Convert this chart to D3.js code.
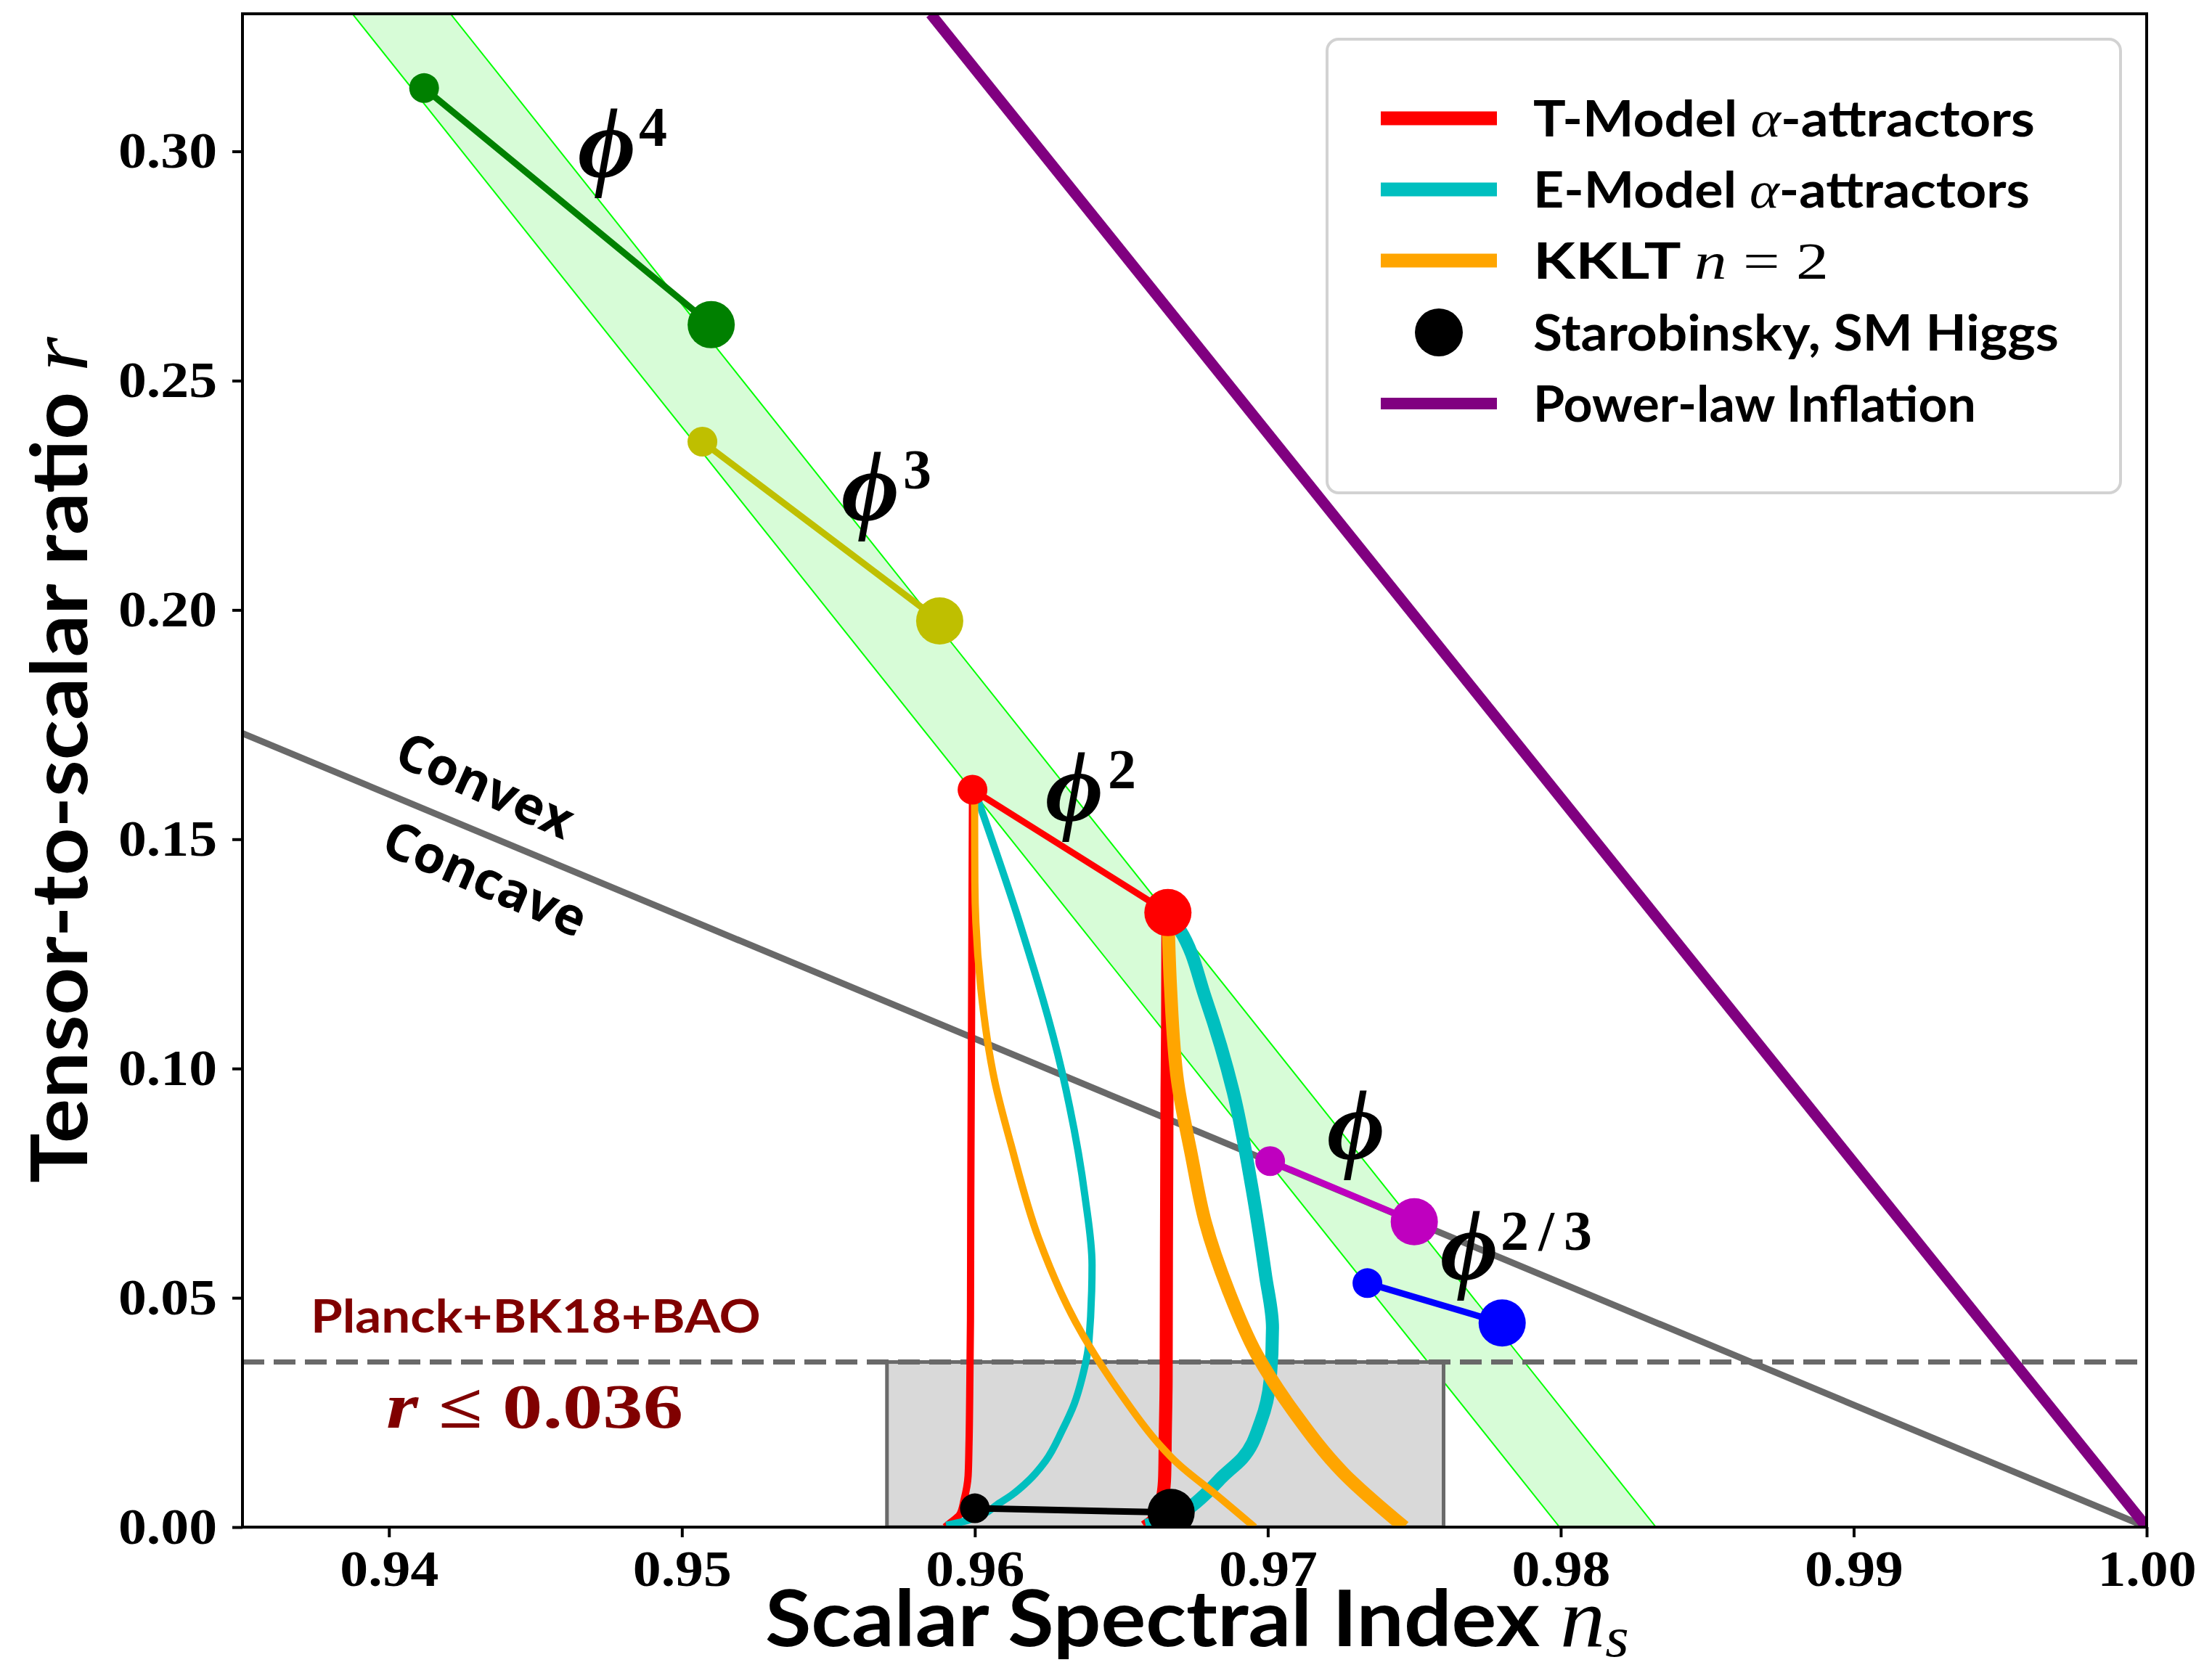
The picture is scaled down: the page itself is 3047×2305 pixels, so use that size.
<!DOCTYPE html>
<html><head><meta charset="utf-8">
<script src="https://cdn.jsdelivr.net/npm/d3@7"></script>
<style>body{margin:0;background:#fff}svg{display:block}</style>
</head><body>
<svg id="c" width="3047" height="2305"></svg>
<script>
// ---------------- DATA ----------------
const nsTicks = [0.94, 0.95, 0.96, 0.97, 0.98, 0.99, 1.00];
const rTicks = [0.00, 0.05, 0.10, 0.15, 0.20, 0.25, 0.30];
const nsDomain = [0.935, 1.0];
const rDomain = [0, 0.33];

// monomial band edges (N=50 and N=60 lines)
const bandN50 = [[0.93875, 0.33], [0.97996, 0.0]];
const bandN60 = [[0.9421, 0.33], [0.98325, 0.0]];

// observational bound
const rBound = 0.036;
const boxNs = [0.957, 0.976];

// reference lines
const convexLine = [[0.935, 0.1731], [1.0, 0.0]];
const powerLaw = [[0.95849, 0.33], [1.0, 0.0]];

// alpha-attractor / KKLT tracks (thin: N=50, thick: N=60)
const tModelN50 = [[0.95992,0.1608],[0.95990,0.13],[0.95988,0.10],[0.95986,0.07],[0.95985,0.045],[0.95983,0.032],[0.95980,0.018],[0.95977,0.0112],[0.95963,0.0059],[0.95948,0.0027],[0.95919,0.0011],[0.95898,0.0]];
const tModelN60 = [[0.96659,0.134],[0.96658,0.11],[0.96656,0.0949],[0.96654,0.06],[0.96653,0.0323],[0.96650,0.02],[0.96648,0.0112],[0.96642,0.007],[0.96625,0.003],[0.96605,0.0012],[0.9658,0.0]];
const eModelN50 = [[0.95999,0.1607],[0.96155,0.1313],[0.96297,0.0994],[0.96376,0.0721],[0.96400,0.0572],[0.96389,0.0401],[0.96365,0.0323],[0.96340,0.0270],[0.96299,0.0212],[0.96241,0.0144],[0.96183,0.0101],[0.96126,0.0070],[0.96076,0.0049],[0.96026,0.0027],[0.95960,0.0012],[0.95902,0.0004]];
const eModelN60 = [[0.96659,0.134],[0.96700,0.1302],[0.96787,0.1154],[0.96882,0.0949],[0.96945,0.0743],[0.96992,0.0550],[0.97016,0.0435],[0.97008,0.0321],[0.96976,0.0230],[0.96913,0.0150],[0.96845,0.0110],[0.96800,0.0080],[0.96746,0.0049],[0.96700,0.0028],[0.96640,0.0012],[0.96583,0.0004]];
const kkltN50 = [[0.95999,0.1607],[0.96000,0.1405],[0.96020,0.1177],[0.96068,0.0972],[0.96123,0.0835],[0.96218,0.0629],[0.96344,0.0447],[0.96502,0.0287],[0.96630,0.0180],[0.96692,0.0139],[0.96825,0.0070],[0.96955,0.0]];
const kkltN60 = [[0.96659,0.134],[0.96668,0.1177],[0.96692,0.0972],[0.96739,0.0812],[0.96787,0.0664],[0.96866,0.0515],[0.96961,0.0378],[0.97087,0.0253],[0.97261,0.0116],[0.97466,0.0]];

// monomial potentials: [N=50 point, N=60 point]
const phi4 = [[0.9412, 0.3138], [0.9510, 0.2622]];
const phi3 = [[0.9507, 0.2367], [0.9588, 0.1976]];
const phi2 = [[0.95992, 0.1608], [0.96659, 0.1340]];
const phi1 = [[0.97008, 0.0798], [0.9750, 0.0666]];
const phi23 = [[0.9734, 0.0532], [0.9780, 0.0445]];
const starobinsky = [[0.9600, 0.0041], [0.9667, 0.0032]];

const monomialSeries = [
  {pts: phi4, color: '#008000', sup: '4'},
  {pts: phi3, color: '#bfbf00', sup: '3'},
  {pts: phi2, color: '#ff0000', sup: '2'},
  {pts: phi1, color: '#bf00bf', sup: ''},
  {pts: phi23, color: '#0000ff', sup: '2/3'},
  {pts: starobinsky, color: '#000000', sup: null}
];

const legendLabels = ['T-Model', 'E-Model', 'KKLT', 'Starobinsky, SM Higgs', 'Power-law Inflation'];
const legendColors = ['#ff0000', '#00bfbf', '#ffa500', '#000000', '#800080'];

// ---------------- LAYOUT ----------------
const W = 3047, H = 2305;
const M = {left: 334, right: 2957, top: 19, bottom: 2104};
const x = d3.scaleLinear().domain(nsDomain).range([M.left, M.right]);
const y = d3.scaleLinear().domain(rDomain).range([M.bottom, M.top]);
const svg = d3.select('#c');
svg.append('rect').attr('width', W).attr('height', H).attr('fill', '#fff');
svg.append('defs').append('clipPath').attr('id', 'clip').append('rect')
  .attr('x', M.left).attr('y', M.top).attr('width', M.right - M.left).attr('height', M.bottom - M.top);
const plot = svg.append('g').attr('clip-path', 'url(#clip)');
const line = d3.line().x(d => x(d[0])).y(d => y(d[1]));
const lineCurve = d3.line().x(d => x(d[0])).y(d => y(d[1])).curve(d3.curveMonotoneY);

const SANS = 'Lato, "Open Sans", "DejaVu Sans", sans-serif';
const SERIF = '"Liberation Serif", "DejaVu Serif", serif';

// band
plot.append('path').attr('d', line(bandN50.concat(bandN60.slice().reverse())) + 'Z').attr('fill', '#d7fcd7');
[bandN50, bandN60].forEach(e => plot.append('path').attr('d', line(e)).attr('fill', 'none').attr('stroke', '#00ff00').attr('stroke-width', 2));

// observational box
plot.append('rect').attr('x', x(boxNs[0])).attr('y', y(rBound))
  .attr('width', x(boxNs[1]) - x(boxNs[0])).attr('height', y(0) - y(rBound))
  .attr('fill', '#d9d9d9').attr('stroke', '#6a6a6a').attr('stroke-width', 5);

// convex/concave line
plot.append('path').attr('d', line(convexLine)).attr('fill', 'none').attr('stroke', '#696969').attr('stroke-width', 9);
// dashed bound
plot.append('line').attr('x1', x(nsDomain[0])).attr('x2', x(nsDomain[1])).attr('y1', y(rBound)).attr('y2', y(rBound))
  .attr('stroke', '#696969').attr('stroke-width', 7).attr('stroke-dasharray', '30,13');
// power law
plot.append('path').attr('d', line(powerLaw)).attr('fill', 'none').attr('stroke', '#800080').attr('stroke-width', 15);

// tracks
const tracks = [
  [tModelN50, '#ff0000', 10], [tModelN60, '#ff0000', 18],
  [eModelN50, '#00bfbf', 10], [eModelN60, '#00bfbf', 18],
  [kkltN50, '#ffa500', 10], [kkltN60, '#ffa500', 18]
];
tracks.forEach(([pts, c, w]) => plot.append('path').attr('d', lineCurve(pts)).attr('fill', 'none')
  .attr('stroke', c).attr('stroke-width', w).attr('stroke-linejoin', 'round'));

// monomial / Starobinsky points
monomialSeries.forEach(s => {
  plot.append('path').attr('d', line(s.pts)).attr('stroke', s.color).attr('stroke-width', 9).attr('fill', 'none');
  plot.append('circle').attr('cx', x(s.pts[0][0])).attr('cy', y(s.pts[0][1])).attr('r', 20.5).attr('fill', s.color);
  plot.append('circle').attr('cx', x(s.pts[1][0])).attr('cy', y(s.pts[1][1])).attr('r', 32.5).attr('fill', s.color);
});

// phi labels
const phiPos = [
  {x: 796, y: 244, sx: 880, sy: 201},
  {x: 1159, y: 717, sx: 1244, sy: 673},
  {x: 1440, y: 1131, sx: 1526, sy: 1086},
  {x: 1828, y: 1597, sx: 0, sy: 0},
  {x: 1984, y: 1763, sx: 2067, sy: 1722}
];
monomialSeries.filter(s => s.sup !== null).forEach((s, i) => {
  const p = phiPos[i];
  svg.append('text').attr('x', p.x).attr('y', p.y).attr('font-family', SERIF).attr('font-style', 'italic')
    .attr('font-weight', 'bold').attr('font-size', 138).attr('fill', '#000').text('\u03D5');
  if (s.sup) {
    const t = svg.append('text').attr('x', p.sx).attr('y', p.sy).attr('font-family', SERIF)
      .attr('font-weight', 'bold').attr('font-size', 78).attr('fill', '#000').text(s.sup);
    if (s.sup.length > 1) t.attr('textLength', 126).attr('lengthAdjust', 'spacing');
  }
});

// axes
const xAxis = svg.append('g').attr('transform', `translate(0,${M.bottom})`)
  .call(d3.axisBottom(x).tickValues(nsTicks).tickSize(14).tickSizeOuter(0).tickPadding(17).tickFormat(d3.format('.2f')));
const yAxis = svg.append('g').attr('transform', `translate(${M.left},0)`)
  .call(d3.axisLeft(y).tickValues(rTicks).tickSize(14).tickSizeOuter(0).tickPadding(21).tickFormat(d3.format('.2f')));
[xAxis, yAxis].forEach(a => {
  a.select('.domain').remove();
  a.selectAll('line').attr('stroke', '#000').attr('stroke-width', 4);
  a.selectAll('text').attr('font-family', SERIF).attr('font-weight', 'bold').attr('font-size', 70).attr('fill', '#000')
    .attr('textLength', 136).attr('lengthAdjust', 'spacingAndGlyphs');
});
svg.append('rect').attr('x', M.left).attr('y', M.top).attr('width', M.right - M.left).attr('height', M.bottom - M.top)
  .attr('fill', 'none').attr('stroke', '#000').attr('stroke-width', 4);

// text helper: build text then stretch to target width
function fitted(x0, y0, angle, width, build) {
  const g = svg.append('g').attr('transform', `translate(${x0},${y0}) rotate(${angle})`);
  const t = g.append('text').attr('x', 0).attr('y', 0).style('white-space', 'pre');
  build(t);
  if (width) {
    const bb = t.node().getBBox();
    t.attr('transform', `scale(${width / bb.width},1) translate(${-bb.x},0)`);
  }
  return g;
}
const sans = (t, s, size, fill) => t.append('tspan').attr('font-family', SANS).attr('font-weight', 'bold').attr('font-size', size).attr('fill', fill || '#000').text(s);
const it = (t, s, size, fill) => t.append('tspan').attr('font-family', SERIF).attr('font-style', 'italic').attr('font-size', size).attr('fill', fill || '#000').text(s);
const rm = (t, s, size, fill, bold) => t.append('tspan').attr('font-family', SERIF).attr('font-weight', bold ? 'bold' : 'normal').attr('font-size', size).attr('fill', fill || '#000').text(s);

// axis labels
fitted(120, 1630, -90, 1167, t => { sans(t, 'Tensor-to-scalar ratio ', 108); it(t, 'r', 116); });
fitted(1054, 2268, 0, 1190, t => { sans(t, 'Scalar Spectral Index ', 108); it(t, 'n', 116); it(t, 's', 78).attr('dy', 14); });

// annotations
const DARKRED = '#800000';
fitted(428, 1836, 0, 620, t => sans(t, 'Planck+BK18+BAO', 64, DARKRED));
fitted(532, 1967, 0, 409, t => { it(t, 'r', 88, DARKRED).attr('font-weight', 'bold'); rm(t, ' \u2264 0.036', 86, DARKRED, true); });
svg.append('text').attr('transform', 'translate(540,1052) rotate(24)').attr('font-family', '"Open Sans", Lato, sans-serif')
  .attr('font-weight', 'bold').attr('font-size', 71).text('Convex');
svg.append('text').attr('transform', 'translate(522,1174) rotate(23.5)').attr('font-family', '"Open Sans", Lato, sans-serif')
  .attr('font-weight', 'bold').attr('font-size', 71).text('Concave');

// legend
svg.append('rect').attr('x', 1828).attr('y', 54).attr('width', 1093).attr('height', 625).attr('rx', 16)
  .attr('fill', '#fff').attr('fill-opacity', 0.8).attr('stroke', '#d2d2d2').attr('stroke-width', 4);
const rowY = [163, 261, 359, 458, 556];
const textW = [691, 684, 407, 724, 610];
legendLabels.forEach((lab, i) => {
  if (i === 3) {
    svg.append('circle').attr('cx', 1982).attr('cy', rowY[i]).attr('r', 33).attr('fill', legendColors[i]);
  } else {
    svg.append('line').attr('x1', 1902).attr('x2', 2062).attr('y1', rowY[i]).attr('y2', rowY[i])
      .attr('stroke', legendColors[i]).attr('stroke-width', i === 4 ? 16 : 19);
  }
  fitted(2112, rowY[i] + 25, 0, textW[i], t => {
    if (i < 2) { sans(t, lab + ' ', 68); it(t, '\u03B1', 72); sans(t, '-attractors', 68); }
    else if (i === 2) { sans(t, lab + ' ', 68); it(t, 'n', 72); rm(t, ' = 2', 72); }
    else sans(t, lab, 68);
  });
});
</script>
</body></html>
